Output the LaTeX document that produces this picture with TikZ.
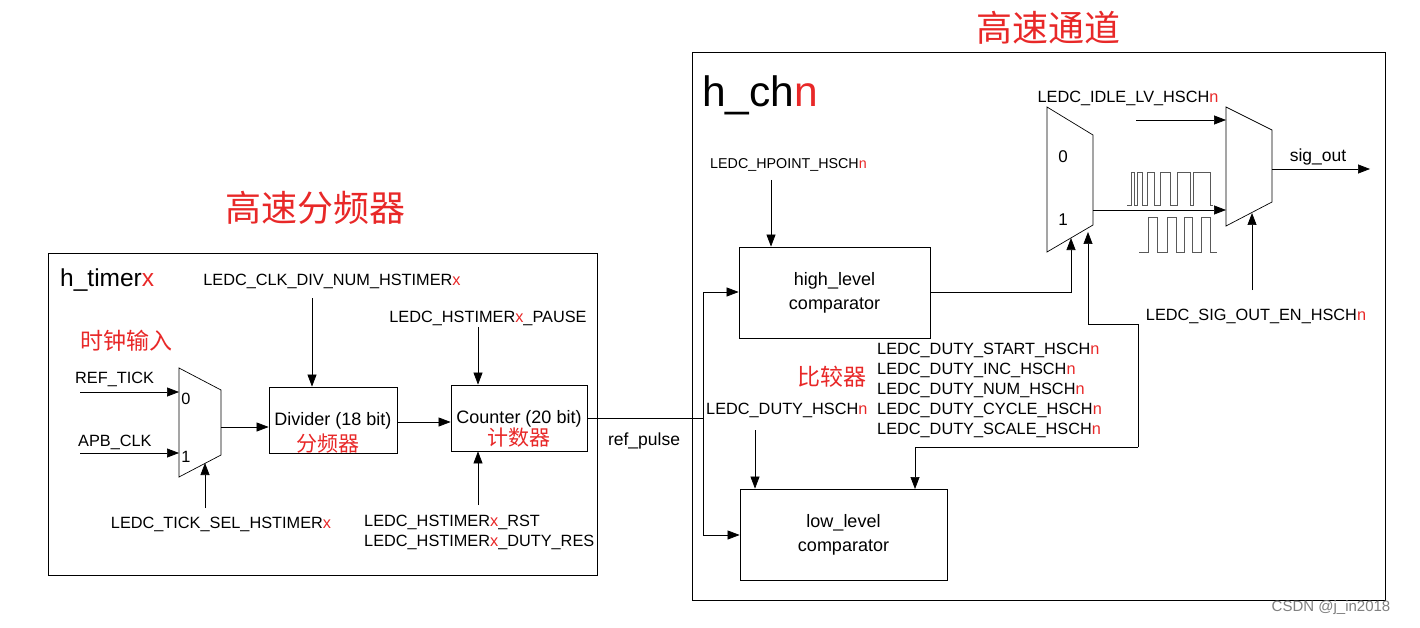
\documentclass[tikz,border=0pt]{standalone}
\usepackage{fontspec}
\setmainfont{Liberation Sans}
\newfontfamily\cjk{Noto Sans CJK SC}
\usetikzlibrary{arrows.meta}
\definecolor{rd}{RGB}{232,40,40}
\newcommand{\rn}{\textcolor{rd}{n}}
\newcommand{\rx}{\textcolor{rd}{x}}
\begin{document}
\begin{tikzpicture}[x=1pt,y=-1pt,
  box/.style={draw,line width=0.8pt,inner sep=0pt},
  lbl/.style={font=\fontsize{16.3}{19}\selectfont,inner sep=0pt},
  cn/.style={font=\cjk\fontsize{23}{25}\selectfont,text=rd,inner sep=0pt},
  ar/.style={-{Triangle[length=12pt,width=9pt]},line width=0.7pt},
  ln/.style={line width=0.7pt}]
\useasboundingbox (0,0) rectangle (1420,628);
% outer boxes
\draw[ln] (48,253) rectangle (597,575);
\draw[ln] (692,52) rectangle (1385,600);
\node[cn,font=\cjk\fontsize{36}{38}\selectfont] (t1) at (315,208) {高速分频器};
\node[cn,font=\cjk\fontsize{36}{38}\selectfont] (t2) at (1048,28) {高速通道};
\node[anchor=west,inner sep=0pt,font=\fontsize{24.5}{26}\selectfont] (ht) at (60,280) {h\_timer\rx};
\node[anchor=west,inner sep=0pt,font=\fontsize{42.5}{44}\selectfont] (hc) at (702,95) {h\_ch\rn};
\node[cn,anchor=west] (clkin) at (80,341) {时钟输入};
% mux 1
\draw[ln] (179,368) -- (221,390) -- (221,455) -- (179,477) -- cycle;
\coordinate (m1a) at (179,392); \coordinate (m1b) at (179,453);
\coordinate (m1o) at (221,427); \coordinate (m1s) at (205,463);
\node[lbl] (z0) at (186,399) {0};
\node[lbl] (z1) at (186,457) {1};
\node[lbl,anchor=west] (reft) at (75,379) {REF\_TICK};
\node[lbl,anchor=west] (apb) at (78,442) {APB\_CLK};
\coordinate (rs) at (80,392); \coordinate (as) at (80,453);
\draw[ar] (rs) -- (m1a);
\draw[ar] (as) -- (m1b);
\node[lbl] (tsel) at (221,524) {LEDC\_TICK\_SEL\_HSTIMER\rx};
\coordinate (tss) at (205,508);
\draw[ar] (tss) -- (m1s);
% divider
\node[box,minimum width=128pt,minimum height=66pt] (div) at (333,420) {};
\node[lbl,font=\fontsize{18}{20}\selectfont] (divt) at (333,421) {Divider (18 bit)};
\node[cn,font=\cjk\fontsize{21}{22}\selectfont] (divc) at (328,444) {分频器};
\draw[ar] (m1o) -- (div.west|-m1o);
\node[lbl] (cdn) at (332,281) {LEDC\_CLK\_DIV\_NUM\_HSTIMER\rx};
\coordinate (cds) at (312,298);
\draw[ar] (cds) -- (cds|-div.north);
% counter
\node[box,minimum width=136pt,minimum height=66pt] (cnt) at (519,418) {};
\node[lbl,font=\fontsize{18}{20}\selectfont] (cntt) at (519,419) {Counter (20 bit)};
\node[cn,font=\cjk\fontsize{21}{22}\selectfont] (cntc) at (519,438) {计数器};
\draw[ar] (div.east|-0,422) -- (cnt.west|-0,422);
\node[lbl] (pau) at (488,318) {LEDC\_HSTIMER\rx\_PAUSE};
\coordinate (pas) at (478,327);
\draw[ar] (pas) -- (pas|-cnt.north);
\node[lbl,anchor=west] (rst) at (364,522) {LEDC\_HSTIMER\rx\_RST};
\node[lbl,anchor=west] (dres) at (364,542) {LEDC\_HSTIMER\rx\_DUTY\_RES};
\coordinate (rss) at (478,505);
\draw[ar] (rss) -- (rss|-cnt.south);
% ref_pulse
\node[lbl,font=\fontsize{17.5}{19}\selectfont] (rp) at (644,441) {ref\_pulse};
\coordinate (j) at (703,418);
\draw[ln] (cnt.east|-j) -- (j);
% high / low comparators
\node[box,minimum width=191pt,minimum height=91pt,align=center,lbl,font=\fontsize{18}{24}\selectfont] (hi) at (834.5,292.5) {high\_level\\comparator};
\node[box,minimum width=207pt,minimum height=91pt,align=center,lbl,font=\fontsize{18}{24}\selectfont] (lo) at (843.5,534.5) {low\_level\\comparator};
\draw[ar] (703,418) -- (703,292) -- (hi.west|-0,292);
\draw[ar] (703,418) -- (703,535) -- (lo.west|-0,535);
\node[lbl,anchor=west,font=\fontsize{14.3}{16}\selectfont] (hp) at (710,165) {LEDC\_HPOINT\_HSCH\rn};
\coordinate (hps) at (771,180);
\draw[ar] (hps) -- (hps|-hi.north);
\node[cn] (bj) at (832,377) {比较器};
\node[lbl,anchor=west] (dh) at (706,410) {LEDC\_DUTY\_HSCH\rn};
\coordinate (dhs) at (755,430);
\draw[ar] (dhs) -- (dhs|-lo.north);
\foreach \t [count=\i] in {START,INC,NUM,CYCLE,SCALE}
  \node[lbl,anchor=west] (d\i) at (877,330+20*\i) {LEDC\_DUTY\_\t\_HSCH\rn};
% mux 2 (right)
\draw[ln] (1047,107) -- (1093,135) -- (1093,225) -- (1047,252) -- cycle;
\node[lbl,font=\fontsize{17}{18}\selectfont] (y0) at (1063,157) {0};
\node[lbl,font=\fontsize{17}{18}\selectfont] (y1) at (1063,220) {1};
\draw[ar] (hi.east|-0,292) -- (1071,292) -- (1071,238);
\draw[ln] (1138,447) -- (1138,324) -- (1088,324);
\draw[ar] (1088,324) -- (1088,232);
\draw[ar] (1138,447) -- (915,447) -- (915,489);
% mux 3
\draw[ln] (1226,107) -- (1272,130) -- (1272,202) -- (1226,226) -- cycle;
\draw[ar] (1093,210) -- (1226,210);
\node[lbl] (idle) at (1128,98) {LEDC\_IDLE\_LV\_HSCH\rn};
\coordinate (ids) at (1136,120);
\draw[ar] (ids) -- (1226,120);
\node[lbl] (soe) at (1256,316) {LEDC\_SIG\_OUT\_EN\_HSCH\rn};
\coordinate (ses) at (1252,290);
\draw[ar] (ses) -- (1252,213);
\node[lbl,font=\fontsize{17.5}{18}\selectfont] (so) at (1318,157) {sig\_out};
\coordinate (soe2) at (1370,169);
\draw[ar] (1272,169) -- (soe2);
% waveforms
\draw[ln,gray!70!black] (1127,205) -- (1131,205) -- (1131,172) -- (1134,172) -- (1134,205) -- (1137,205) -- (1137,172) -- (1142,172) -- (1142,205) -- (1147,205) -- (1147,172) -- (1154,172) -- (1154,205) -- (1160,205) -- (1160,172) -- (1170,172) -- (1170,205) -- (1177,205) -- (1177,172) -- (1190,172) -- (1190,205) -- (1193,205) -- (1193,172) -- (1210,172) -- (1210,205) -- (1213,205);
\draw[ln,gray!70!black] (1139,252) -- (1148,252) -- (1148,217) -- (1157,217) -- (1157,252) -- (1167,252) -- (1167,217) -- (1176,217) -- (1176,252) -- (1184,252) -- (1184,217) -- (1192,217) -- (1192,252) -- (1201,252) -- (1201,217) -- (1210,217) -- (1210,252) -- (1217,252);
\node[lbl,text=gray,font=\fontsize{15}{17}\selectfont] (wm) at (1331,608) {CSDN @j\_in2018};
\end{tikzpicture}
\end{document}
